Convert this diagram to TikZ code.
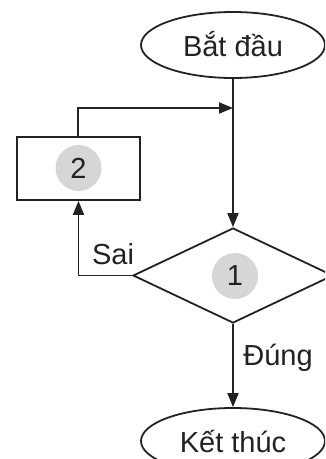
\documentclass[tikz,border=0pt]{standalone}
\usepackage{fontspec}
\setmainfont{Liberation Sans}
\usetikzlibrary{shapes.geometric,arrows.meta}
\definecolor{ink}{HTML}{222222}
\definecolor{disc}{HTML}{D6D6D6}
\begin{document}
\begin{tikzpicture}[x=1pt,y=-1pt,
  font=\fontsize{29}{34}\selectfont,
  every node/.style={text=ink},
  line/.style={draw=ink,line width=1.8pt},
  arr/.style={line,-{Triangle[length=14pt,width=11pt]}},
  term/.style={ellipse,draw=ink,line width=1.8pt,minimum width=184pt,minimum height=66pt,inner sep=0pt},
  box/.style={rectangle,draw=ink,line width=1.8pt,minimum width=123pt,minimum height=63pt,inner sep=0pt},
  dec/.style={diamond,draw=ink,line width=1.8pt,minimum width=200pt,minimum height=95pt,inner sep=0pt},
  badge/.style={circle,fill=disc,minimum size=46pt,inner sep=0pt}]
\useasboundingbox (0,0) rectangle (325,459);
\begin{scope}
\clip (0,0) rectangle (325,459);
\node[term] (start) at (233,45) {};
\node at (233,44) {Bắt đầu};
\node[box] (two) at (78.5,168.5) {};
\node[badge] (b2) at (78.5,168) {2};
\node[dec] (one) at (233,275.5) {};
\node[badge] (b1) at (235,276) {1};
\node[term] (stop) at (233,441) {};
\node at (233,441.5) {Kết thúc};
\coordinate (join) at (233,108);
\draw[line] (start.south) -- (join);
\draw[arr] (join) -- (one.north);
\draw[arr] (two.north -| 78,0) |- (join);
\draw[arr] (one.west) -| (two.south);
\draw[arr] (one.south) -- (stop.north);
\node (sai) at (113,254) {Sai};
\node (dung) at (278,358) {Đúng};
\end{scope}
\end{tikzpicture}
\end{document}
